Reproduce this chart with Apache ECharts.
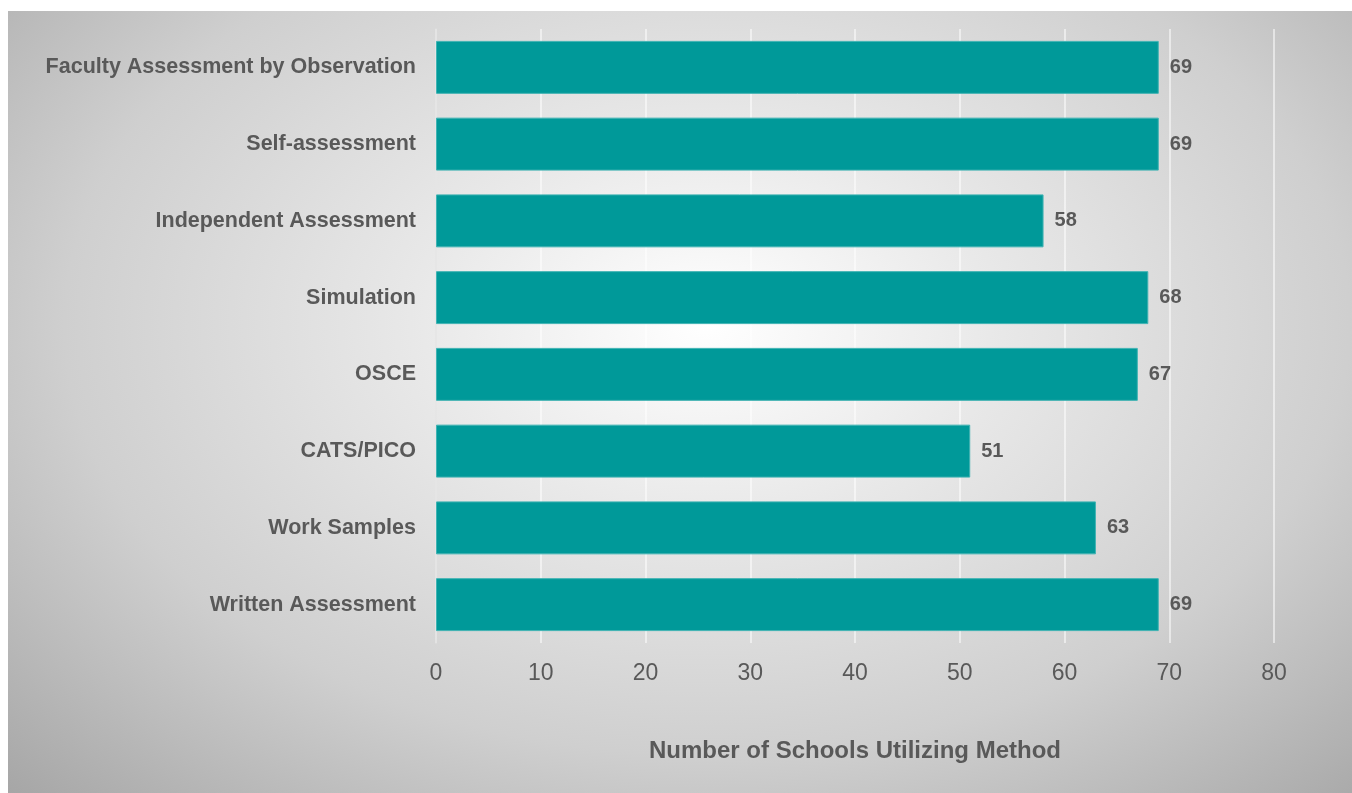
<!DOCTYPE html>
<html>
<head>
<meta charset="utf-8">
<script src="https://cdn.jsdelivr.net/npm/echarts@6/dist/echarts.min.js"></script>
<style>
html,body{margin:0;padding:0;background:#fff;}
#wrap{position:relative;width:1352px;height:793px;}
#bg{position:absolute;left:8px;top:11px;right:0;bottom:0;
background:radial-gradient(ellipse farthest-corner at 52% 40%, #ffffff 0%, #e8e8e8 30%, #cfcfcf 65%, #a6a6a6 100%);}
#chart{position:absolute;left:0;top:0;width:1352px;height:793px;}
</style>
</head>
<body>
<div id="wrap"><div id="bg"></div><div id="chart"></div></div>
<script>
const categories = ["Written Assessment","Work Samples","CATS/PICO","OSCE","Simulation","Independent Assessment","Self-assessment","Faculty Assessment by Observation"];
const values = [69,63,51,67,68,58,69,69];
const xTicks = [0,10,20,30,40,50,60,70,80];
const axisTitle = "Number of Schools Utilizing Method";

const chart = echarts.init(document.getElementById('chart'), null, {renderer:'canvas'});
chart.setOption({
  backgroundColor: 'transparent',
  animation: false,
  grid: {left: 436, right: 78, top: 29, bottom: 150, containLabel: false},
  xAxis: {
    type: 'value', min: xTicks[0], max: xTicks[xTicks.length-1], interval: 10,
    name: axisTitle, nameLocation: 'middle', nameGap: 96,
    nameTextStyle: {fontFamily: 'Liberation Sans, Arial', fontWeight: 'bold', fontSize: 24, color: '#595959'},
    axisLine: {show: false}, axisTick: {show: false},
    axisLabel: {fontFamily: 'Liberation Sans, Arial', fontSize: 23, color: '#595959', margin: 19},
    splitLine: {show: true, lineStyle: {color: 'rgba(255,255,255,0.7)', width: 1.5}}
  },
  yAxis: {
    type: 'category', data: categories,
    axisLine: {show: true, lineStyle: {color: '#e0e0e0', width: 1.5}},
    axisTick: {show: false},
    axisLabel: {fontFamily: 'Liberation Sans, Arial', fontWeight: 'bold', fontSize: 21.5, color: '#595959', margin: 20}
  },
  series: [{
    type: 'bar', data: values, barCategoryGap: '31%',
    itemStyle: {color: '#009999', borderColor: '#3fb3b3', borderWidth: 1},
    label: {show: true, position: 'right', distance: 11, fontFamily: 'Liberation Sans, Arial', fontWeight: 'bold', fontSize: 20, color: '#595959'}
  }]
});
</script>
</body>
</html>
